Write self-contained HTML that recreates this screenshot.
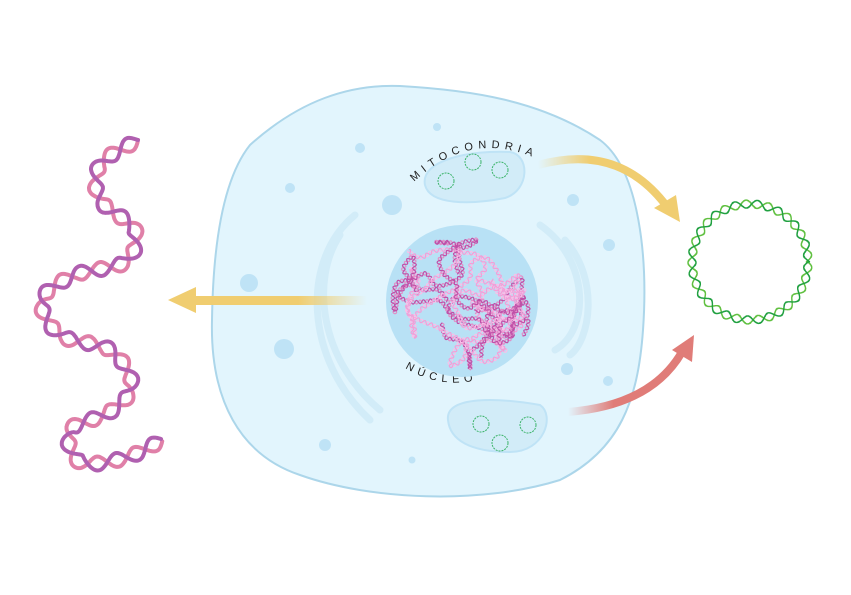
<!DOCTYPE html>
<html><head><meta charset="utf-8"><style>
html,body{margin:0;padding:0;background:#fff;width:851px;height:595px;overflow:hidden}
svg{display:block}
text{font-family:"Liberation Sans",sans-serif;font-size:11px;fill:#222;letter-spacing:5px}
</style></head><body>
<svg id="s" width="851" height="595" viewBox="0 0 851 595" xmlns="http://www.w3.org/2000/svg">
<defs>
<linearGradient id="gy" x1="0" x2="1"><stop offset="0" stop-color="#f0cd70"/><stop offset="0.6" stop-color="#f0cd70"/><stop offset="1" stop-color="#f0cd70" stop-opacity="0"/></linearGradient>
<linearGradient id="gy2" x1="0" x2="1"><stop offset="0" stop-color="#f0cd70" stop-opacity="0"/><stop offset="0.4" stop-color="#f0cd70"/></linearGradient>
<linearGradient id="gr" x1="0" x2="1"><stop offset="0" stop-color="#e07c78" stop-opacity="0"/><stop offset="0.4" stop-color="#e07c78"/></linearGradient>
<clipPath id="nc"><circle cx="462" cy="301" r="74"/></clipPath>
<path id="tp1" d="M414,182 Q470,128 540,160"/>
<path id="tp2" d="M405,368 Q450,395 500,372"/>
</defs>
<path d="M250,145 C300,100 350,84 400,86 C470,90 540,100 600,140 C640,170 648,260 643,330 C638,400 620,450 560,480 C480,505 370,500 300,475 C240,455 210,400 212,320 C213,250 222,180 250,145Z" fill="#e2f5fd" stroke="#acd6ea" stroke-width="2"/>
<g fill="none" stroke="#d2ecf8" stroke-width="7" stroke-linecap="round">
<path d="M355,215 C300,260 305,360 370,420"/>
<path d="M340,235 C310,280 320,360 380,410"/>
<path d="M540,225 C590,260 590,330 555,350"/>
<path d="M565,240 C600,280 590,340 570,355"/>
</g>
<g fill="#bfe3f6">
<circle cx="392" cy="205" r="10"/><circle cx="284" cy="349" r="10"/><circle cx="249" cy="283" r="9"/>
<circle cx="360" cy="148" r="5"/><circle cx="290" cy="188" r="5"/><circle cx="573" cy="200" r="6"/>
<circle cx="609" cy="245" r="6"/><circle cx="567" cy="369" r="6"/><circle cx="608" cy="381" r="5"/>
<circle cx="325" cy="445" r="6"/><circle cx="412" cy="460" r="3.5"/><circle cx="437" cy="127" r="4"/>
</g>
<g fill="#d2ecf8" stroke="#bfe3f6" stroke-width="2">
<path d="M425,185 C420,160 470,150 510,152 C530,155 530,190 505,198 C470,205 430,205 425,185Z"/>
<path d="M448,420 C445,395 500,398 540,405 C555,415 545,452 510,452 C470,452 450,440 448,420Z"/>
</g>
<g fill="none" stroke="#3cb46a" stroke-width="1" stroke-dasharray="2 1">
<circle cx="446" cy="181" r="8"/><circle cx="473" cy="162" r="8"/><circle cx="500" cy="170" r="8"/>
<circle cx="481" cy="424" r="8"/><circle cx="500" cy="443" r="8"/><circle cx="528" cy="425" r="8"/>
</g>
<text><textPath href="#tp1">MITOCONDRIA</textPath></text>
<text><textPath href="#tp2">NÚCLEO</textPath></text>
<circle cx="462" cy="301" r="76" fill="#b8e1f5"/>
<g id="nuc" clip-path="url(#nc)"></g>
<rect x="195" y="296" width="172" height="9" fill="url(#gy)"/>
<polygon points="168,300 196,287 196,313" fill="#f0cd70"/>
<path d="M538,165 C600,148 640,170 668,208" fill="none" stroke="url(#gy2)" stroke-width="8"/>
<polygon points="680,222 654,208 676,195" fill="#f0cd70"/>
<path d="M568,412 C620,408 660,390 682,352" fill="none" stroke="url(#gr)" stroke-width="8"/>
<polygon points="694,335 692,362 672,350" fill="#e07c78"/>
<g id="dna"></g>
<g id="circ"></g>
</svg>
<script>
function helix(pts,amp,per,c1,c2,w,parent){
 let S=[];
 for(let i=0;i<pts.length-1;i++){
  let p0=pts[Math.max(0,i-1)],p1=pts[i],p2=pts[i+1],p3=pts[Math.min(pts.length-1,i+2)];
  for(let t=0;t<1;t+=0.02){
   let t2=t*t,t3=t2*t;
   let f=(a,b,c,d)=>0.5*((2*b)+(-a+c)*t+(2*a-5*b+4*c-d)*t2+(-a+3*b-3*c+d)*t3);
   S.push([f(p0[0],p1[0],p2[0],p3[0]),f(p0[1],p1[1],p2[1],p3[1])]);
  }
 }
 let a="",b="",s=0;
 for(let i=0;i<S.length;i++){
  let j=Math.min(i+1,S.length-1),k=Math.max(i-1,0);
  let dx=S[j][0]-S[k][0],dy=S[j][1]-S[k][1],L=Math.hypot(dx,dy)||1;
  if(i>0)s+=Math.hypot(S[i][0]-S[i-1][0],S[i][1]-S[i-1][1]);
  let nx=-dy/L,ny=dx/L,o=amp*Math.sin(s/per*2*Math.PI);
  a+=(i?"L":"M")+(S[i][0]+nx*o).toFixed(1)+","+(S[i][1]+ny*o).toFixed(1);
  b+=(i?"L":"M")+(S[i][0]-nx*o).toFixed(1)+","+(S[i][1]-ny*o).toFixed(1);
 }
 parent.innerHTML+=`<path d="${b}" fill="none" stroke="${c2}" stroke-width="${w}" stroke-linecap="round"/><path d="${a}" fill="none" stroke="${c1}" stroke-width="${w}" stroke-linecap="round"/>`;
}
helix([[138,140],[100,165],[100,200],[135,230],[125,262],[75,275],[42,300],[60,335],[110,350],[132,385],[110,412],[70,430],[80,462],[125,458],[162,440]],7,40,"#b060b0","#e080a8",4,document.getElementById("dna"));
let cp=[];for(let i=0;i<=100;i++){let t=i/100*2*Math.PI;cp.push([750+58*Math.cos(t),262+58*Math.sin(t)]);}
helix(cp,4,22,"#20a040","#60c040",1.4,document.getElementById("circ"));
let seed=23;function r(){seed=(seed*16807)%2147483647;return seed/2147483647;}
let nuc=document.getElementById("nuc");
for(let k=0;k<10;k++){
 let p=[[400+r()*124,240+r()*120]],ang=r()*6.28;
 for(let i=0;i<18;i++){let l=p[p.length-1];ang+=(r()-0.5)*2.6;
  let n=[l[0]+15*Math.cos(ang),l[1]+15*Math.sin(ang)];
  let dx=n[0]-462,dy=n[1]-301;if(Math.hypot(dx,dy)>68){ang+=Math.PI;n=[l[0]+15*Math.cos(ang),l[1]+15*Math.sin(ang)];}
  p.push(n);}
 helix(p,1.8,7,k%2?"#c050a8":"#f0a0d8",k%2?"#e090c8":"#f8c0e8",1.2,nuc);
}
</script>
</body></html>
